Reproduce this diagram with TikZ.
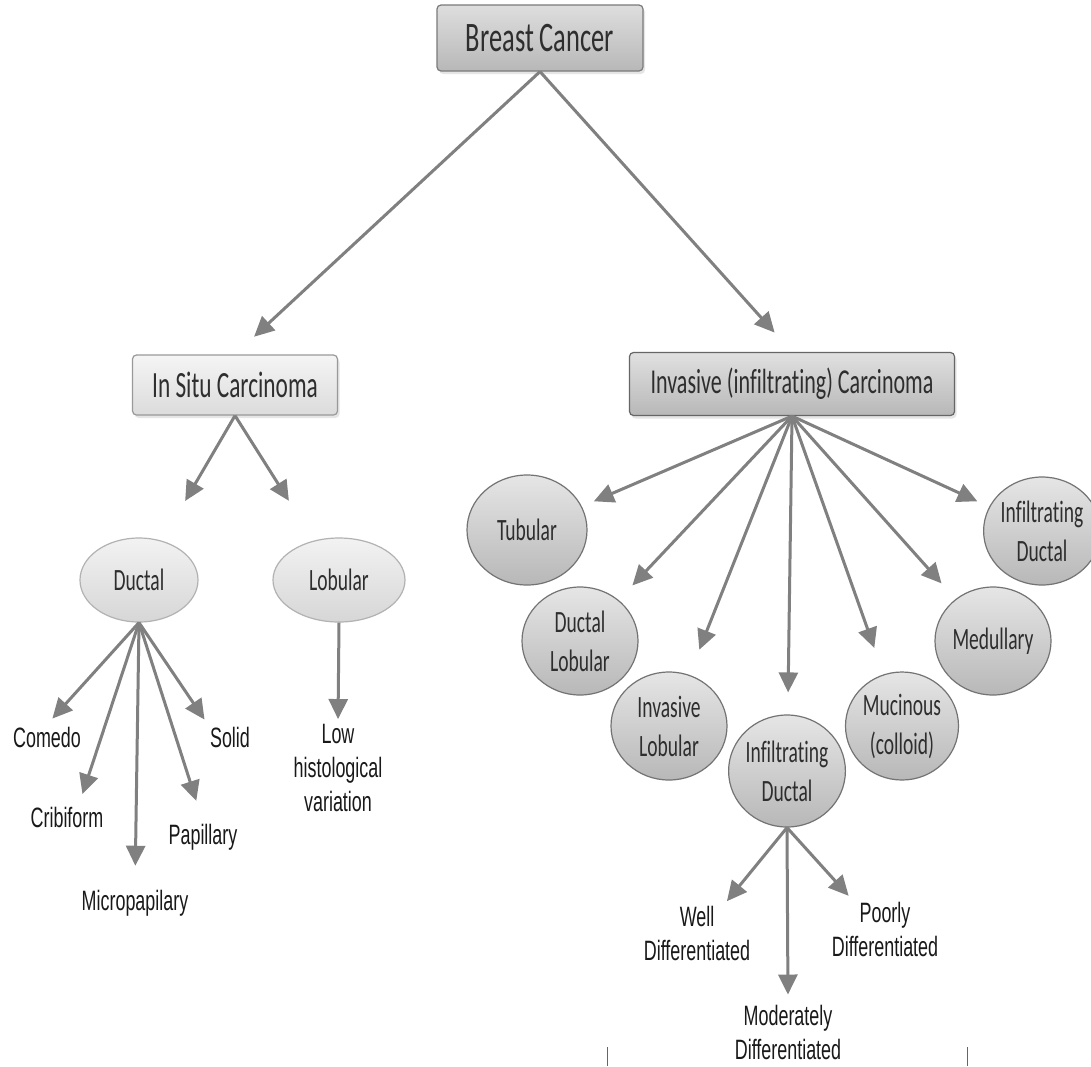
\documentclass[tikz,border=0pt]{standalone}
\usepackage{fontspec}
\newfontfamily\boxfont[FakeStretch=0.63,Ligatures=NoCommon]{Carlito}
\newfontfamily\leaffont[FakeStretch=0.64]{Liberation Sans}
\usetikzlibrary{arrows.meta,shapes.geometric,shadows}
\definecolor{arrowgray}{HTML}{808080}
\definecolor{textgray}{HTML}{2E2E2E}
\definecolor{boxline}{HTML}{7A7A7A}

\begin{document}
\begin{tikzpicture}[x=1pt,y=-1pt,
    box/.style={rectangle,draw=boxline,line width=1.2pt,rounded corners=4pt,inner sep=0pt,text=textgray,
      drop shadow={shadow xshift=2pt,shadow yshift=-3pt,opacity=0.2}},
    oval/.style={ellipse,draw=#1,line width=1.2pt,inner sep=0pt,text=textgray,align=center,
      font=\boxfont\fontsize{31}{39}\selectfont},
    leaf/.style={align=center,inner sep=2pt,text=black!90,font=\leaffont\fontsize{28}{34}\selectfont},
    arr/.style={draw=arrowgray,line width=3pt,-{Triangle[length=20pt,width=19pt]}}]
  \useasboundingbox[fill=white] (0,0) rectangle (1091,1066);

  \begin{scope}
    \node[box,top color=black!13,bottom color=black!28,minimum width=206pt,minimum height=66pt,
      font=\boxfont\fontsize{42}{50}\selectfont] (bc) at (540,38) {Breast Cancer};
    \node[box,draw=black!40,top color=black!4,bottom color=black!14,minimum width=205pt,minimum height=60pt,
      font=\boxfont\fontsize{37}{44}\selectfont] (situ) at (235,385) {In Situ Carcinoma};
    \node[box,draw=black!60,top color=black!12,bottom color=black!28,minimum width=325pt,minimum height=63pt,
      font=\boxfont\fontsize{35}{42}\selectfont] (inv) at (792,384) {Invasive (infiltrating) Carcinoma};
  \end{scope}

  \begin{scope}[every node/.append style={top color=black!5,bottom color=black!16}]
    \node[oval=black!30,minimum width=118pt,minimum height=84pt] (duct) at (139,580) {Ductal};
    \node[oval=black!30,minimum width=132pt,minimum height=84pt] (lob) at (339,580) {Lobular};
  \end{scope}

  \begin{scope}[every node/.append style={top color=black!10,bottom color=black!28,minimum width=116pt,minimum height=108pt}]
    \node[oval=black!55,minimum width=120pt,minimum height=110pt] (tub) at (527,530) {Tubular};
    \node[oval=black!55] (dlob) at (580,641) {Ductal\\Lobular};
    \node[oval=black!55] (ilob) at (669,726) {Invasive\\Lobular};
    \node[oval=black!55,minimum height=112pt] (idc) at (787,771) {Infiltrating\\Ductal};
    \node[oval=black!55,minimum width=113pt] (muc) at (902,726) {Mucinous\\(colloid)};
    \node[oval=black!55] (med) at (993,641) {Medullary};
    \node[oval=black!55] (idr) at (1042,531) {Infiltrating\\Ductal};
  \end{scope}

  \node[leaf] (comedo) at (47,737) {Comedo};
  \node[leaf] (crib) at (67,817) {Cribiform};
  \node[leaf] (micro) at (135,903) {Micropapilary};
  \node[leaf] (papil) at (203,837) {Papillary};
  \node[leaf] (solid) at (230,737) {Solid};
  \node[leaf] (low) at (338,768) {Low\\histological\\variation};
  \node[leaf] (well) at (697,933) {Well\\Differentiated};
  \node[leaf] (moder) at (788,1032) {Moderately\\Differentiated};
  \node[leaf] (poor) at (885,929) {Poorly\\Differentiated};

  \begin{scope}[arr]
    \path (bc.south) edge[shorten >=26pt] (situ.north)
      (bc.south) edge[shorten >=26pt] (inv.north);
    \path (situ.south) edge[shorten >=46pt] (duct)
      (situ.south) edge[shorten >=47pt] (lob);
    \path (inv.south) edge[shorten >=13pt] (tub)
      (inv.south) edge[shorten >=20pt] (dlob)
      (inv.south) edge[shorten >=27pt] (ilob)
      (inv.south) edge[shorten >=22pt] (idc)
      (inv.south) edge[shorten >=28pt] (muc)
      (inv.south) edge[shorten >=21pt] (med)
      (inv.south) edge[shorten >=13pt] (idr);
    \path (duct.south) edge[shorten >=8pt] (comedo.north)
      (duct.south) edge[shorten >=11pt] ([xshift=12pt]crib.north)
      (duct.south) edge[shorten >=22pt] (micro.north)
      (duct.south) edge[shorten >=22pt] (papil.north)
      (duct.south) edge[shorten >=6pt] (solid.north west);
    \path (lob.south) edge[shorten >=3pt] (low.north);
    \path (idc.south) edge[shorten >=3pt] ([xshift=28pt]well.north)
      (idc.south) edge[shorten >=8pt] (moder.north)
      (idc.south) edge[shorten >=5pt] ([xshift=-33pt]poor.north);
  \end{scope}

  \draw[black!60,line width=1pt] (607,1047) -- (607,1066) (967,1047) -- (967,1066);
\end{tikzpicture}
\end{document}
